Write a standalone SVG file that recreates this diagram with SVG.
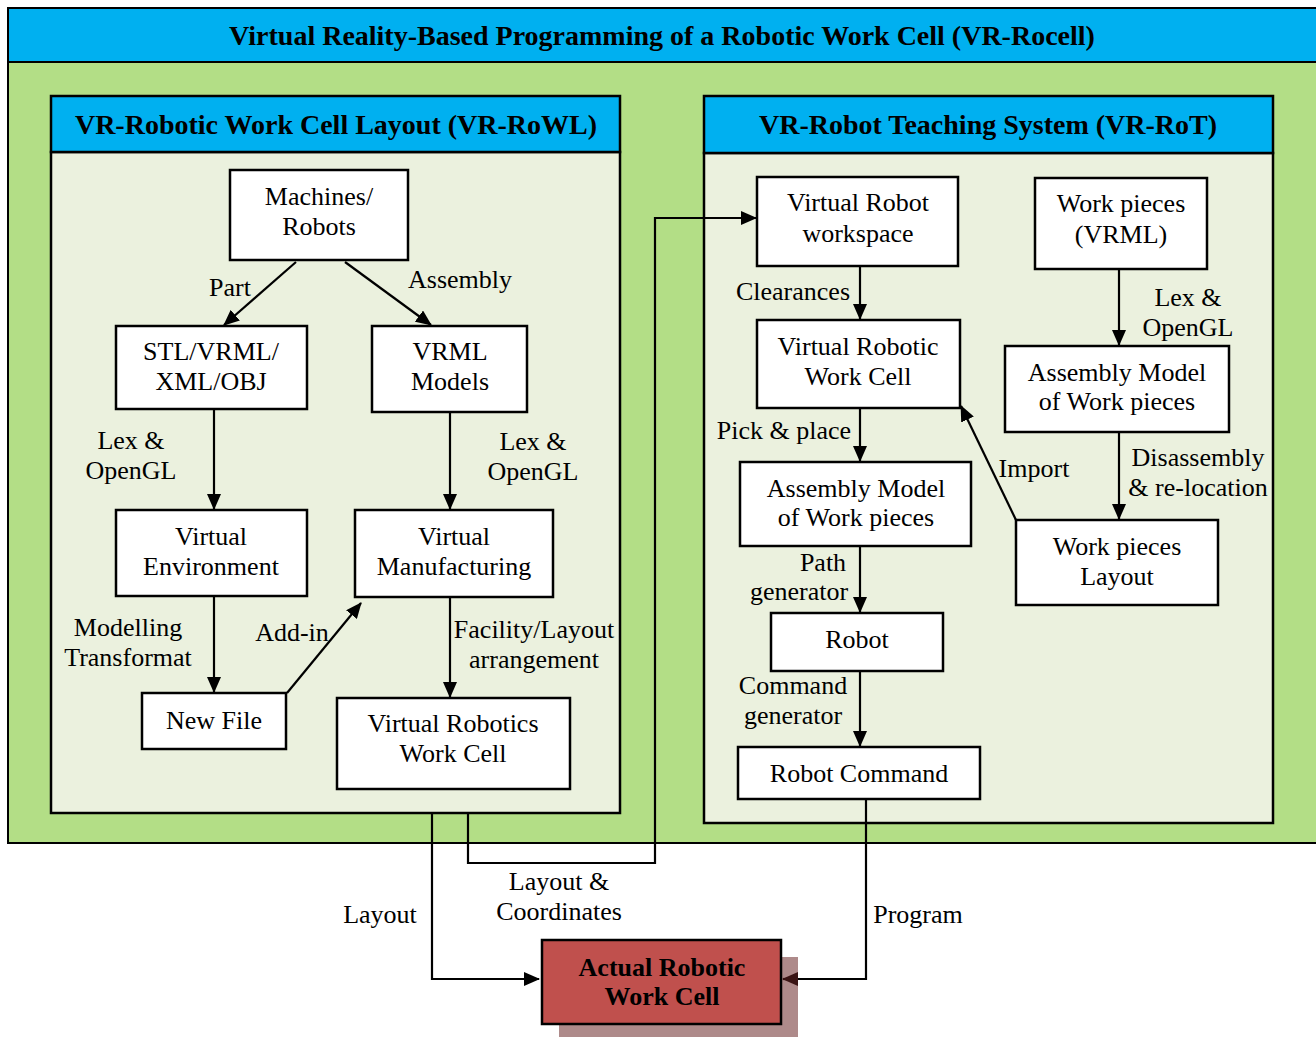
<svg xmlns="http://www.w3.org/2000/svg" width="1316" height="1037" viewBox="0 0 1316 1037">
<defs>
<marker id="ah" markerUnits="userSpaceOnUse" markerWidth="16" markerHeight="14" refX="15" refY="7" orient="auto">
<path d="M0,0 L16,7 L0,14 Z" fill="#000"/>
</marker>
<marker id="ahd" markerUnits="userSpaceOnUse" markerWidth="16" markerHeight="14" refX="15" refY="7" orient="auto">
<path d="M0,0 L16,7 L0,14 Z" fill="#3a1414"/>
</marker>
<style>
.box{fill:#fff;stroke:#000;stroke-width:2.5}
.t{font-family:"Liberation Serif","Times New Roman",serif;font-size:26px;fill:#000;text-anchor:middle}
.h{font-family:"Liberation Serif","Times New Roman",serif;font-size:28px;font-weight:bold;fill:#000;text-anchor:middle}
.c{fill:none;stroke:#000;stroke-width:2.2}
.ca{fill:none;stroke:#000;stroke-width:2.2;marker-end:url(#ah)}
</style>
</defs>
<rect width="1316" height="1037" fill="#fff"/>
<g id="frame">
<rect x="8" y="62" width="1312" height="781" fill="#B3DE86" stroke="#000" stroke-width="2"/>
<rect x="8" y="8" width="1312" height="54" fill="#00B0F0" stroke="#000" stroke-width="2"/>
<text class="h" x="662" y="45">Virtual Reality-Based Programming of a Robotic Work Cell (VR-Rocell)</text>
</g>
<g id="panel-left">
<rect x="51" y="152" width="569" height="661" fill="#EBF1DE" stroke="#000" stroke-width="2.5"/>
<rect x="51" y="96" width="569" height="56" fill="#00B0F0" stroke="#000" stroke-width="2.5"/>
<text class="h" x="336" y="134">VR-Robotic Work Cell Layout (VR-RoWL)</text>
</g>
<g id="panel-right">
<rect x="704" y="153" width="569" height="670" fill="#EBF1DE" stroke="#000" stroke-width="2.5"/>
<rect x="704" y="96" width="569" height="57" fill="#00B0F0" stroke="#000" stroke-width="2.5"/>
<text class="h" x="988" y="134">VR-Robot Teaching System (VR-RoT)</text>
</g>
<g id="n-actual">
<rect x="559" y="957" width="239" height="84" fill="#AE8A8A"/>
<rect x="542" y="940" width="239" height="84" fill="#C0504D" stroke="#000" stroke-width="2.5"/>
<text class="t" x="662" y="976" font-weight="bold" font-size="25.5">Actual Robotic</text>
<text class="t" x="662" y="1005" font-weight="bold" font-size="25.5">Work Cell</text>
</g>
<g id="connectors">
<line class="ca" x1="296" y1="262" x2="224" y2="325"/>
<line class="ca" x1="345" y1="262" x2="431" y2="325"/>
<line class="ca" x1="214" y1="409" x2="214" y2="509"/>
<line class="ca" x1="450" y1="412" x2="450" y2="509"/>
<line class="ca" x1="214" y1="596" x2="214" y2="692"/>
<line class="ca" x1="287" y1="693" x2="361" y2="603"/>
<line class="ca" x1="450" y1="597" x2="450" y2="697"/>
<polyline class="ca" points="432,813 432,979 539,979"/>
<polyline class="ca" points="468,813 468,863 655,863 655,218 756,218"/>
<polyline class="c" points="866,799 866,979 798,979"/>
<line x1="798" y1="979" x2="783" y2="979" stroke="#3a1414" stroke-width="2.2" marker-end="url(#ahd)"/>
<line class="ca" x1="860" y1="266" x2="860" y2="319"/>
<line class="ca" x1="860" y1="408" x2="860" y2="461"/>
<line class="ca" x1="860" y1="546" x2="860" y2="612"/>
<line class="ca" x1="860" y1="671" x2="860" y2="746"/>
<line class="ca" x1="1119" y1="269" x2="1119" y2="345"/>
<line class="ca" x1="1119" y1="432" x2="1119" y2="519"/>
<line class="ca" x1="1016" y1="520" x2="961" y2="406"/>
</g>
<g id="labels">
<text class="t" x="230" y="296">Part</text>
<text class="t" x="460" y="288">Assembly</text>
<text class="t" x="131" y="449">Lex &amp;</text>
<text class="t" x="131" y="479">OpenGL</text>
<text class="t" x="533" y="450">Lex &amp;</text>
<text class="t" x="533" y="480">OpenGL</text>
<text class="t" x="128" y="636">Modelling</text>
<text class="t" x="128" y="666">Transformat</text>
<text class="t" x="292" y="641">Add-in</text>
<text class="t" x="534" y="638">Facility/Layout</text>
<text class="t" x="534" y="668">arrangement</text>
<text class="t" x="380" y="923">Layout</text>
<text class="t" x="559" y="890">Layout &amp;</text>
<text class="t" x="559" y="920">Coordinates</text>
<text class="t" x="918" y="923">Program</text>
<text class="t" x="793" y="300">Clearances</text>
<text class="t" x="784" y="439">Pick &amp; place</text>
<text class="t" x="823" y="571">Path</text>
<text class="t" x="799" y="600">generator</text>
<text class="t" x="793" y="694">Command</text>
<text class="t" x="793" y="724">generator</text>
<text class="t" x="1188" y="306">Lex &amp;</text>
<text class="t" x="1188" y="336">OpenGL</text>
<text class="t" x="1198" y="466">Disassembly</text>
<text class="t" x="1198" y="496">&amp; re-location</text>
<text class="t" x="1034" y="477">Import</text>
</g>
<g id="n-machines"><rect class="box" x="230" y="170" width="178" height="90"/><text class="t" x="319" y="205">Machines/</text><text class="t" x="319" y="235">Robots</text></g>
<g id="n-stl"><rect class="box" x="116" y="326" width="191" height="83"/><text class="t" x="211" y="360">STL/VRML/</text><text class="t" x="211" y="390">XML/OBJ</text></g>
<g id="n-vrml"><rect class="box" x="372" y="326" width="155" height="86"/><text class="t" x="450" y="360">VRML</text><text class="t" x="450" y="390">Models</text></g>
<g id="n-venv"><rect class="box" x="116" y="510" width="191" height="86"/><text class="t" x="211" y="545">Virtual</text><text class="t" x="211" y="575">Environment</text></g>
<g id="n-vmanu"><rect class="box" x="355" y="510" width="198" height="87"/><text class="t" x="454" y="545">Virtual</text><text class="t" x="454" y="575">Manufacturing</text></g>
<g id="n-newfile"><rect class="box" x="142" y="693" width="144" height="56"/><text class="t" x="214" y="729">New File</text></g>
<g id="n-vrwc"><rect class="box" x="337" y="698" width="233" height="91"/><text class="t" x="453" y="732">Virtual Robotics</text><text class="t" x="453" y="762">Work Cell</text></g>
<g id="n-vrws"><rect class="box" x="757" y="177" width="201" height="89"/><text class="t" x="858" y="211">Virtual Robot</text><text class="t" x="858" y="242">workspace</text></g>
<g id="n-wpvrml"><rect class="box" x="1035" y="178" width="172" height="91"/><text class="t" x="1121" y="212">Work pieces</text><text class="t" x="1121" y="243">(VRML)</text></g>
<g id="n-vrwc2"><rect class="box" x="757" y="320" width="203" height="88"/><text class="t" x="858" y="355">Virtual Robotic</text><text class="t" x="858" y="385">Work Cell</text></g>
<g id="n-amwp-r"><rect class="box" x="1005" y="346" width="224" height="86"/><text class="t" x="1117" y="381">Assembly Model</text><text class="t" x="1117" y="410">of Work pieces</text></g>
<g id="n-amwp-l"><rect class="box" x="740" y="462" width="231" height="84"/><text class="t" x="856" y="497">Assembly Model</text><text class="t" x="856" y="526">of Work pieces</text></g>
<g id="n-wplayout"><rect class="box" x="1016" y="520" width="202" height="85"/><text class="t" x="1117" y="555">Work pieces</text><text class="t" x="1117" y="585">Layout</text></g>
<g id="n-robot"><rect class="box" x="771" y="613" width="172" height="58"/><text class="t" x="857" y="648">Robot</text></g>
<g id="n-robotcmd"><rect class="box" x="738" y="747" width="242" height="52"/><text class="t" x="859" y="782">Robot Command</text></g>
</svg>
